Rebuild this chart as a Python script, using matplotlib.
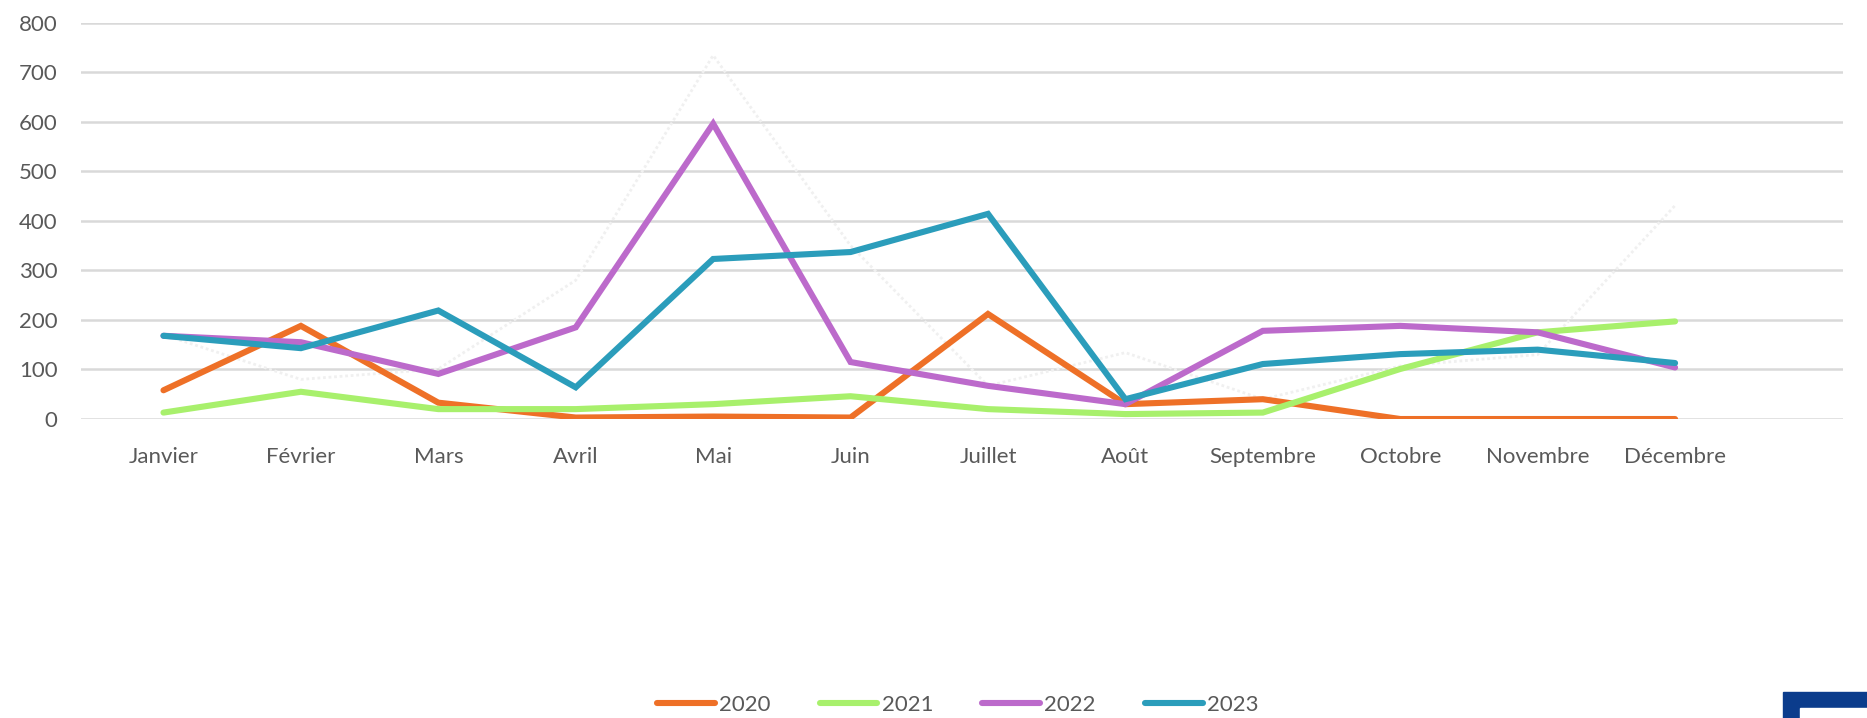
import matplotlib.pyplot as plt
import matplotlib.patches as mpatches

# monthly values
mois = ['Janvier', 'Février', 'Mars', 'Avril', 'Mai', 'Juin', 'Juillet',
        'Août', 'Septembre', 'Octobre', 'Novembre', 'Décembre']
v2020 = [58, 188, 33, 3, 5, 3, 212, 30, 40, 0, 0, 0]
v2021 = [13, 55, 20, 20, 30, 46, 20, 10, 13, 101, 175, 197]
v2022 = [168, 155, 91, 185, 596, 115, 67, 30, 178, 188, 175, 104]
v2023 = [168, 143, 219, 64, 323, 337, 414, 40, 111, 131, 140, 113]
# faint, almost white series (not in the legend)
v_pale = [170, 80, 101, 280, 734, 350, 67, 134, 40, 107, 130, 431]

series = [('2020', v2020, '#EE7027'),
          ('2021', v2021, '#A8F06C'),
          ('2022', v2022, '#BC6ACB'),
          ('2023', v2023, '#2B9DBB')]

plt.rcParams['font.family'] = ['Lato', 'DejaVu Sans']

fig = plt.figure(figsize=(18.67, 7.18), dpi=100)
fig.patch.set_facecolor('white')
ax = fig.add_axes([0.0434, 0.4164, 0.9436, 0.5521])

x = list(range(len(mois)))
ax.plot(x, v_pale, color='#F0F0F0', lw=2, ls=(0, (1, 1)), zorder=2)
for name, vals, col in series:
    ax.plot(x, vals, color=col, lw=4.4, solid_capstyle='round',
            solid_joinstyle='miter', label=name, zorder=3)

ax.set_ylim(0, 800)
ax.set_yticks(range(0, 801, 100))
ax.set_xlim(-0.6, 12.22)
ax.set_xticks(x)
ax.set_xticklabels(mois)
ax.grid(axis='y', color='#D9D9D9', lw=1.8, zorder=0)
ax.set_axisbelow(True)
for s in ax.spines.values():
    s.set_visible(False)
ax.tick_params(length=0, labelsize=16, colors='#595959')
ax.tick_params(axis='y', pad=17)
ax.tick_params(axis='x', pad=20)

fig.legend(loc='center', bbox_to_anchor=(0.513, 0.018), ncol=4, frameon=False,
           fontsize=16, handlelength=2.6, handletextpad=0.2, columnspacing=2.2,
           labelcolor='#595959')

# cropped logo in the bottom right corner
fig.patches.append(mpatches.Rectangle((1783 / 1867, 0), 84 / 1867, 26 / 718,
                                      transform=fig.transFigure, color='#0B3C8C'))
fig.patches.append(mpatches.Rectangle((1800 / 1867, 0), 67 / 1867, 10 / 718,
                                      transform=fig.transFigure, color='white'))

fig.savefig('out.png', dpi=100)
